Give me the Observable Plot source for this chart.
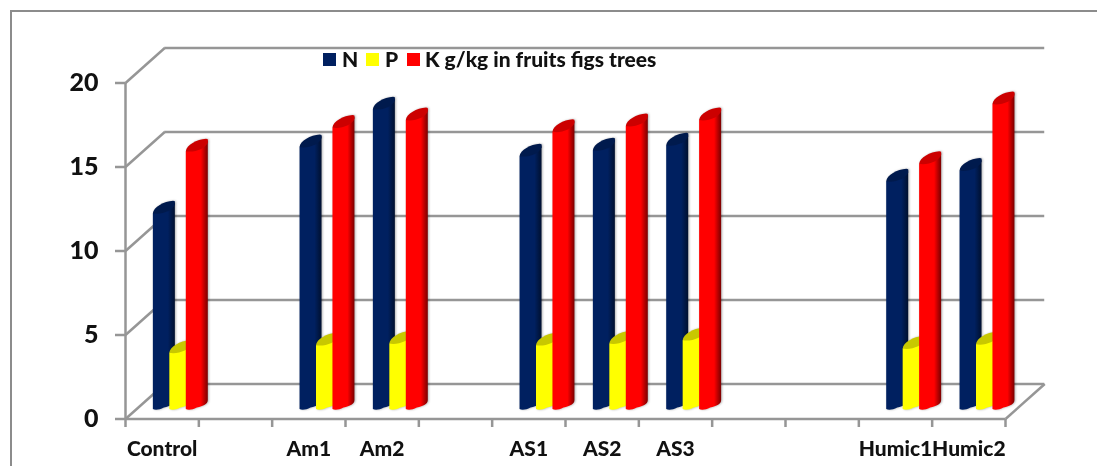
<!DOCTYPE html>
<html>
<head>
<meta charset="utf-8">
<script src="https://cdn.jsdelivr.net/npm/d3@7"></script>
<script src="https://cdn.jsdelivr.net/npm/@observablehq/plot@0.6"></script>
<style>
  html, body { margin: 0; padding: 0; background: #fff; width: 1097px; height: 466px; overflow: hidden; }
  #stage { position: relative; width: 1097px; height: 466px; font-family: Lato, sans-serif; }
  #border { position: absolute; left: 10px; top: 10px; right: 0; bottom: 0; border-top: 2px solid #8c8c8c; border-left: 2px solid #8c8c8c; }
  #chart { position: absolute; left: 0; top: 0; }
  #chart svg { display: block; background: transparent; filter: blur(0.35px); }
  #chart svg text, #legend { font-variant-ligatures: none; }
  #legend { position: absolute; left: 323px; top: 47px; height: 24px; font: 900 21px/24px Lato, sans-serif; color: #111; white-space: nowrap; filter: blur(0.3px); }
  #legend i { position: absolute; top: 5.5px; width: 13px; height: 13px; }
  #legend span { position: absolute; top: 0; }
</style>
</head>
<body>
<div id="stage">
  <div id="border"></div>
  <div id="chart"></div>
  <div id="legend"></div>
</div>
<script>
const categories = ["Control", "", "Am1", "Am2", "", "AS1", "AS2", "AS3", "", "", "Humic1", "Humic2"];
const valuesN = [11.65, null, 15.6, 17.85, null, 15.05, 15.4, 15.7, null, null, 13.55, 14.2];
const valuesP = [3.35, null, 3.8, 3.9, null, 3.8, 3.9, 4.1, null, null, 3.6, 3.85];
const valuesK = [15.35, null, 16.75, 17.2, null, 16.5, 16.85, 17.2, null, null, 14.6, 18.15];
const seriesNames = ["N", "P", "K"];
const seriesColors = ["#002060", "#ffff00", "#ff0000"];
const capColors = ["#001a4d", "#c8c800", "#cc0000"];
const edgeColors = ["#00102f", "#e6e600", "#7a0000"];
const legendTitle = "K g/kg in fruits figs trees";
const yTicks = [0, 5, 10, 15, 20];

// 3-D box of the chart, in data units
const depthX = 0.535;
const depthY = 2.08;
const barLift = 0.565;   // the cylinders stand mid-way into the floor
const barStart = 0.38;
const barStep = 0.2245;
const barWidth = 0.3;

const xTicks = d3.range(0, categories.length + 1);
const labelled = categories.map((c, i) => i).filter(i => categories[i]);

const rows = [];
[valuesN, valuesP, valuesK].forEach((vals, s) => {
  vals.forEach((v, i) => {
    if (v == null) return;
    const x1 = i + barStart + s * barStep;
    rows.push({series: s, name: seriesNames[s], category: categories[i], x1, x2: x1 + barWidth, base: barLift, top: barLift + v});
  });
});

function cylinders(index, scales, values) {
  const g = d3.create("svg:g").style("filter", "drop-shadow(1px 0 1px rgba(0,0,0,.3))");
  for (const i of index) {
    const x = values.x1[i], w = values.x2[i] - x;
    const top = values.y2[i], base = values.y1[i];
    const s = rows[i].series;
    const lx = (f) => x + f * w;
    g.append("path")
      .attr("fill", `url(#body${s})`)
      .attr("d", `M${x},${top} L${x},${base}
        C${lx(0.08)},${base + 1} ${lx(0.3)},${base + 1} ${lx(0.5)},${base - 1.5}
        C${lx(0.8)},${base - 3} ${lx(1)},${base - 5} ${lx(1)},${base - 9}
        L${lx(1)},${top - 11} Z`);
    g.append("path")
      .attr("fill", capColors[s])
      .attr("d", `M${x},${top}
        C${lx(0.02)},${top - 6} ${lx(0.5)},${top - 12} ${lx(0.92)},${top - 12.5}
        L${lx(1)},${top - 12}
        L${lx(1)},${top - 9}
        C${lx(0.95)},${top - 3} ${lx(0.35)},${top + 2} ${x},${top} Z`);
  }
  return g.node();
}

const defs = () => {
  const d = d3.create("svg:defs");
  seriesNames.forEach((n, s) => {
    const lg = d.append("linearGradient").attr("id", `body${s}`).attr("x1", 0).attr("x2", 1).attr("y1", 0).attr("y2", 0);
    lg.append("stop").attr("offset", "0").attr("stop-color", seriesColors[s]);
    lg.append("stop").attr("offset", "0.68").attr("stop-color", seriesColors[s]);
    lg.append("stop").attr("offset", "1").attr("stop-color", edgeColors[s]);
  });
  return d.node();
};

const gray = "#969696";
const chart = Plot.plot({
  width: 1097,
  height: 466,
  marginLeft: 125, marginRight: 92, marginTop: 82, marginBottom: 47,
  style: {background: "transparent", fontFamily: "Lato, sans-serif", overflow: "visible"},
  x: {type: "linear", domain: [0, categories.length], range: [125, 1005]},
  y: {domain: [0, 20], range: [418.5, 82.5]},
  marks: [
    defs,
    // back wall grid lines
    Plot.ruleY(yTicks, {y: d => d + depthY, x1: depthX, x2: categories.length + depthX, stroke: gray, strokeWidth: 2.5}),
    // side wall diagonals and floor edge
    Plot.link(yTicks, {x1: 0, x2: depthX, y1: d => d, y2: d => d + depthY, stroke: gray, strokeWidth: 2.5}),
    Plot.link([0], {x1: categories.length, x2: categories.length + depthX, y1: 0, y2: depthY, stroke: gray, strokeWidth: 2.5}),
    // front axis lines
    Plot.ruleX([0], {y1: 0, y2: 20, stroke: gray, strokeWidth: 2.5}),
    Plot.ruleY([0], {x1: 0, x2: categories.length, stroke: gray, strokeWidth: 2.5}),
    Plot.axisY(yTicks, {
      tickSize: 10, tickPadding: 17, label: null, stroke: gray, strokeWidth: 2.5, strokeOpacity: 1,
      fontSize: 25, fontWeight: 900, fill: "#111"
    }),
    Plot.axisX(xTicks, {
      tickSize: 8, tickFormat: () => "", label: null, stroke: gray, strokeWidth: 2.5, strokeOpacity: 1
    }),
    Plot.axisX(labelled.map(i => i + 0.5), {
      tickSize: 0, tickPadding: 22, label: null,
      tickFormat: d => categories[d - 0.5],
      fontSize: 21, fontWeight: 900, fill: "#111"
    }),
    Plot.rect(rows, {x1: "x1", x2: "x2", y1: "base", y2: "top", render: cylinders})
  ]
});
document.getElementById("chart").append(chart);

const legend = document.getElementById("legend");
const swatchAt = [0, 43, 84];
const textAt = [19, 62, 102];
const texts = ["N", "P", legendTitle];
seriesNames.forEach((n, s) => {
  const sw = document.createElement("i");
  sw.style.left = swatchAt[s] + "px";
  sw.style.background = seriesColors[s];
  legend.append(sw);
  const t = document.createElement("span");
  t.style.left = textAt[s] + "px";
  t.textContent = texts[s];
  legend.append(t);
});
</script>
</body>
</html>
